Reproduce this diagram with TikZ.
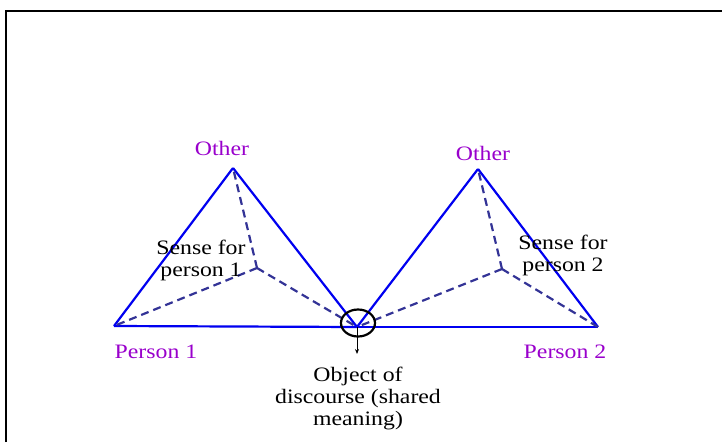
\documentclass[tikz,border=0pt]{standalone}
\usepackage{fontspec}
\setmainfont[FakeStretch=1.16]{Liberation Serif}
\usepackage{tikz}
\usetikzlibrary{arrows.meta}

\definecolor{tri}{RGB}{0,0,240}
\definecolor{sense}{RGB}{51,51,150}
\definecolor{lbl}{RGB}{153,0,204}

\tikzset{
  side/.style={draw=tri, line width=2.2pt},
  inner/.style={draw=sense, line width=2.2pt, dash pattern=on 8pt off 5pt},
  who/.style={text=lbl, font=\fontsize{20.5}{22}\selectfont, inner sep=0pt},
  txt/.style={font=\fontsize{20.5}{22}\selectfont, align=center, inner sep=0pt}
}

\begin{document}
\begin{tikzpicture}[x=1pt, y=-1pt]
\useasboundingbox (0,0) rectangle (722,442);
\draw[line width=2.2pt] (6,442) -- (6,11) -- (722,11);

\coordinate (p1) at (114,326);
\coordinate (o1) at (233,168);
\coordinate (s1) at (257,268);
\coordinate (m) at (357,327);
\coordinate (o2) at (478,169);
\coordinate (s2) at (502,269);
\coordinate (p2) at (598,327);
\coordinate (down) at (357,354);

\foreach \p/\q in {p1/o1, o1/m, p1/m, m/o2, o2/p2, m/p2}
{\draw[side] (\p) -- (\q);}
\foreach \p/\q in {s1/o1, s1/p1, s1/m, s2/o2, s2/m, s2/p2}
{\draw[inner] (\p) -- (\q);}

\draw[line width=2.2pt] (358,323) ellipse [x radius=17, y radius=13.5];
\draw[-{Stealth[length=5pt,width=4pt]}, line width=0.9pt] (m) -- (down);

\node[who] (other1) at (222,148) {Other};
\node[who] (other2) at (483,153) {Other};
\node[who] (person1) at (156,352) {Person 1};
\node[who] (person2) at (565,352) {Person 2};
\node[txt] (sense1) at (201,260) {Sense for\\person 1};
\node[txt] (sense2) at (563,255) {Sense for\\person 2};
\node[txt] (object) at (358,398) {Object of\\discourse (shared\\meaning)};

\end{tikzpicture}
\end{document}
